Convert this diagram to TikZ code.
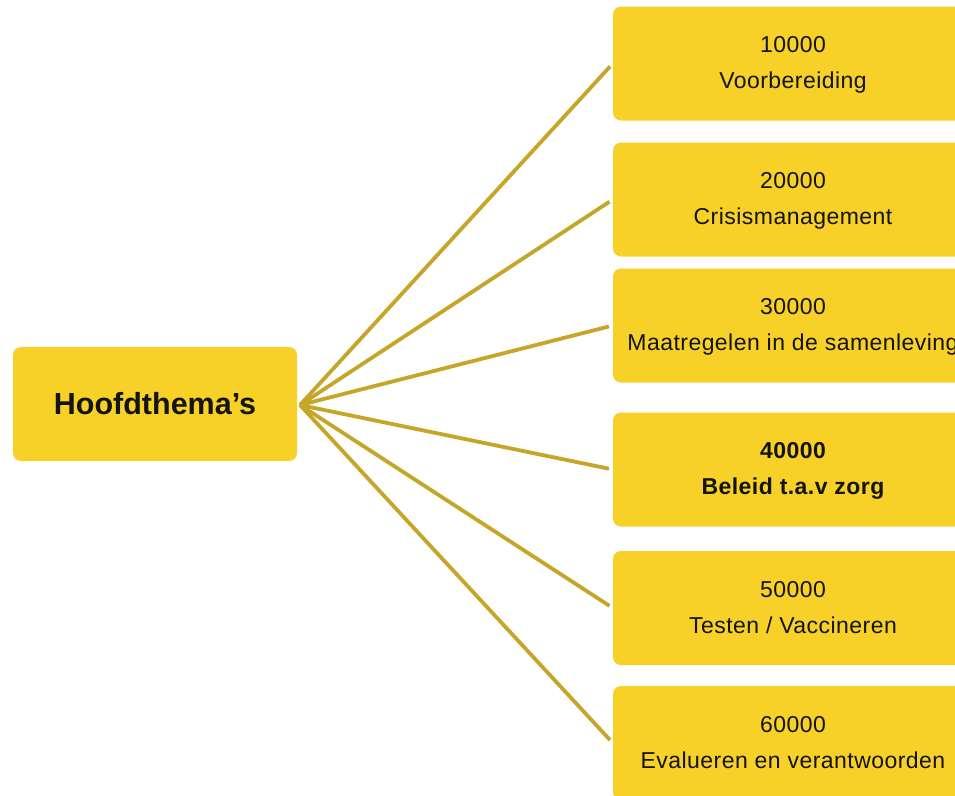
\documentclass[tikz,border=0pt]{standalone}
\usepackage{fontspec}
\setmainfont{Liberation Sans}
\newfontfamily\themafont[LetterSpace=2]{Liberation Sans}
\definecolor{themageel}{RGB}{247,208,40}
\definecolor{takgoud}{RGB}{198,166,40}
\definecolor{tekstzwart}{RGB}{20,20,20}
\tikzset{
	themabox/.style={fill=themageel, rounded corners=8pt, minimum width=360pt, minimum height=114pt, align=center, text=tekstzwart, font=\themafont\fontsize{23}{36}\selectfont, inner sep=0pt},
	hoofdbox/.style={fill=themageel, rounded corners=8pt, minimum width=284pt, minimum height=114pt, text=tekstzwart, font=\bfseries\fontsize{30.5}{36}\selectfont},
	tak/.style={takgoud, line width=3.8pt, shorten >=4pt}
}

\begin{document}
\begin{tikzpicture}[x=1pt,y=-1pt]
		\useasboundingbox (0,0) rectangle (955,795);
		\clip (0,0) rectangle (955,795);
		\node[hoofdbox] (hoofd) at (155,404) {Hoofdthema’s};
		\node[themabox] (th1) at (793,63.5) {\strut 10000\\Voorbereiding\strut};
		\node[themabox] (th2) at (793,199.5) {\strut 20000\\Crisismanagement\strut};
		\node[themabox] (th3) at (793,325.5) {\strut 30000\\Maatregelen in de samenleving\strut};
		\node[themabox, font=\themafont\bfseries\fontsize{23}{36}\selectfont] (th4) at (793,469.5) {\strut 40000\\Beleid t.a.v zorg\strut};
		\node[themabox] (th5) at (793,608) {\strut 50000\\Testen / Vaccineren\strut};
		\node[themabox] (th6) at (793,743) {\strut 60000\\Evalueren en verantwoorden\strut};
		\coordinate (hub) at (300,405);
		\draw[tak] (hub) -- (th1.west);
		\draw[tak] (hub) -- (th2.west);
		\draw[tak] (hub) -- (th3.west);
		\draw[tak] (hub) -- (th4.west);
		\draw[tak] (hub) -- (th5.west);
		\draw[tak] (hub) -- (th6.west);
	\end{tikzpicture}
\end{document}
